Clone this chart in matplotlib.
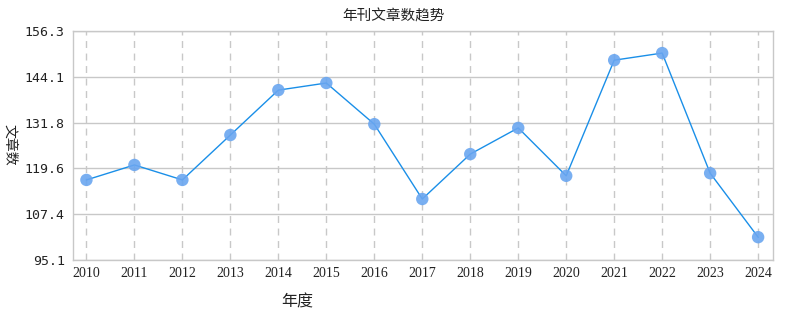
import matplotlib
matplotlib.use("Agg")
import matplotlib.pyplot as plt
import matplotlib.transforms as mtransforms

# data
years = [2010, 2011, 2012, 2013, 2014, 2015, 2016, 2017,
         2018, 2019, 2020, 2021, 2022, 2023, 2024]
counts = [116.5, 120.5, 116.5, 128.5, 140.5, 142.4, 131.4, 111.4,
          123.4, 130.4, 117.6, 148.5, 150.4, 118.3, 101.2]
y_ticks = [95.1, 107.4, 119.6, 131.8, 144.1, 156.3]

cjk = ["Noto Sans CJK SC", "DejaVu Sans"]

fig = plt.figure(figsize=(7.98, 3.3), dpi=100)
ax = fig.add_axes([73 / 798, 70 / 330, 700 / 798, 229 / 330])

ax.plot(years, counts, color="#1a8fe8", linewidth=1, zorder=3)
ax.scatter(years, counts, s=80, color="#6aa6f0", alpha=0.9,
           edgecolors="none", zorder=4)

ax.set_xlim(years[0] - 0.28, years[-1] + 0.31)
ax.set_ylim(y_ticks[0], y_ticks[-1])

ax.set_yticks(y_ticks)
ax.set_yticklabels([f"{v:.1f}" for v in y_ticks],
                   fontfamily="DejaVu Sans Mono", fontsize=9.5)
ax.set_xticks(years)
ax.set_xticklabels([str(y) for y in years],
                   fontfamily="Liberation Serif", fontsize=10)

# nudge x tick labels a bit to the right as in the reference
offset = mtransforms.ScaledTranslation(6 / 100, 0, fig.dpi_scale_trans)
for lbl in ax.get_xticklabels():
    lbl.set_transform(lbl.get_transform() + offset)

ax.tick_params(axis="both", length=0, colors="#222222")
ax.tick_params(axis="y", pad=6)
ax.tick_params(axis="x", pad=5)

ax.grid(axis="y", color="#c8c8c8", linewidth=1, linestyle="-")
ax.grid(axis="x", color="#c8c8c8", linewidth=1, linestyle=(0, (5, 4)))
ax.set_axisbelow(True)
for sp in ax.spines.values():
    sp.set_color("#c8c8c8")
    sp.set_linewidth(1)

fig.text(394 / 798, 1 - 16 / 330, "年刊文章数趋势", family=cjk, fontsize=10.5,
         ha="center", va="center", color="#222222")
fig.text(297 / 798, 1 - 302 / 330, "年度", family=cjk, fontsize=11.5,
         ha="center", va="center", color="#222222")
fig.text(10 / 798, 1 - 145 / 330, "文章数", family=cjk, fontsize=10,
         ha="center", va="center", rotation=-90, color="#222222")

fig.savefig("out.png", dpi=100)
